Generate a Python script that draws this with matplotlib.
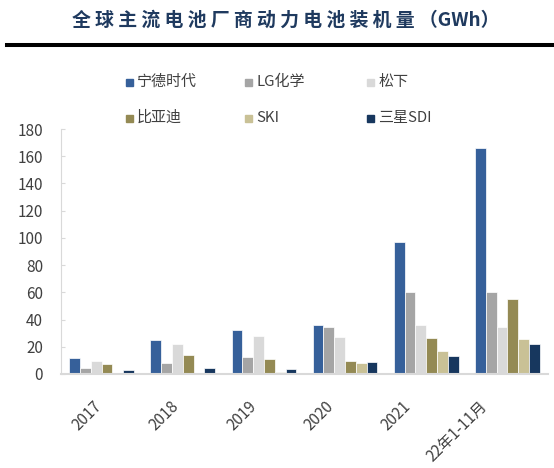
import matplotlib
matplotlib.use("Agg")
import matplotlib.pyplot as plt
import matplotlib.transforms as mtransforms
from matplotlib.patches import Rectangle
import numpy as np

plt.rcParams['font.family'] = ['Noto Sans CJK SC', 'DejaVu Sans']

years = ['2017', '2018', '2019', '2020', '2021', '22年1-11月']
series_names = ['宁德时代', 'LG化学', '松下', '比亚迪', 'SKI', '三星SDI']
catl = [11.8, 24.8, 32.3, 36.3, 96.7, 165.7]
lg = [4.5, 8.4, 12.3, 34.3, 60.3, 60.5]
panasonic = [9.9, 22.4, 28.1, 26.9, 36.0, 34.2]
byd = [7.4, 13.8, 11.0, 9.8, 26.3, 54.8]
ski = [0, 0, 1.8, 8.2, 16.8, 26.0]
samsung = [2.8, 4.3, 3.9, 8.7, 13.1, 22.1]
colors = ['#36609A', '#A5A5A5', '#D9D9D9', '#948A54', '#C9C196', '#17375E']

all_series = [catl, lg, panasonic, byd, ski, samsung]

W, H = 554, 468
fig = plt.figure(figsize=(W / 100, H / 100), dpi=100)
ax = fig.add_axes([61 / W, 1 - 374 / H, 487 / W, 245 / H])

x = np.arange(len(years))
bw = 0.133
for i, (vals, c) in enumerate(zip(all_series, colors)):
    ax.bar(x + (i - 2.5) * bw, vals, bw, color=c, edgecolor='white', linewidth=0.5)

ax.set_xlim(-0.5, len(years) - 0.5)
ax.set_ylim(0, 180)
ax.set_yticks(range(0, 181, 20))
ax.tick_params(axis='y', direction='in', length=3, width=0.8, color='#D9D9D9',
               pad=13, labelsize=11, labelcolor='#404040')
ax.set_xticks(x)
ax.set_xticklabels(years, rotation=45, ha='right', va='top', rotation_mode='anchor')
ax.tick_params(axis='x', length=0, pad=17, labelsize=11, labelcolor='#404040')

# excel-like drift of the rotated labels
for i, lab in enumerate(ax.get_xticklabels()):
    dx = -(8.0 + 4.1 * i) / 100
    lab.set_transform(lab.get_transform() + mtransforms.ScaledTranslation(dx, 0, fig.dpi_scale_trans))

for s in ['top', 'right']:
    ax.spines[s].set_visible(False)
ax.spines['left'].set_color('#D9D9D9')
ax.spines['bottom'].set_color('#D9D9D9')
ax.spines['bottom'].set_linewidth(1.5)

# legend, 3 columns x 2 rows
col_x = [126, 245, 367]
row_y = [82, 118]
sq = 7
for i, (name, c) in enumerate(zip(series_names, colors)):
    px = col_x[i % 3]
    py = row_y[i // 3]
    fig.patches.append(Rectangle((px / W, 1 - (py + sq / 2) / H), sq / W, sq / H,
                                 transform=fig.transFigure, color=c, figure=fig))
    fig.text((px + sq + 4) / W, 1 - py / H, name, fontsize=10.8, color='#404040',
             ha='left', va='center')

# title and rule
fig.text(286 / W, 1 - 20 / H, '全 球 主 流 电 池 厂 商 动 力 电 池 装 机 量 （GWh）',
         fontsize=13.6, fontweight='bold', color='#1F3A5F', ha='center', va='center')
fig.add_artist(plt.Line2D([7 / W, 1], [1 - 44.7 / H, 1 - 44.7 / H], color='black',
                          linewidth=2.9, transform=fig.transFigure))

fig.savefig('out.png', dpi=100)
